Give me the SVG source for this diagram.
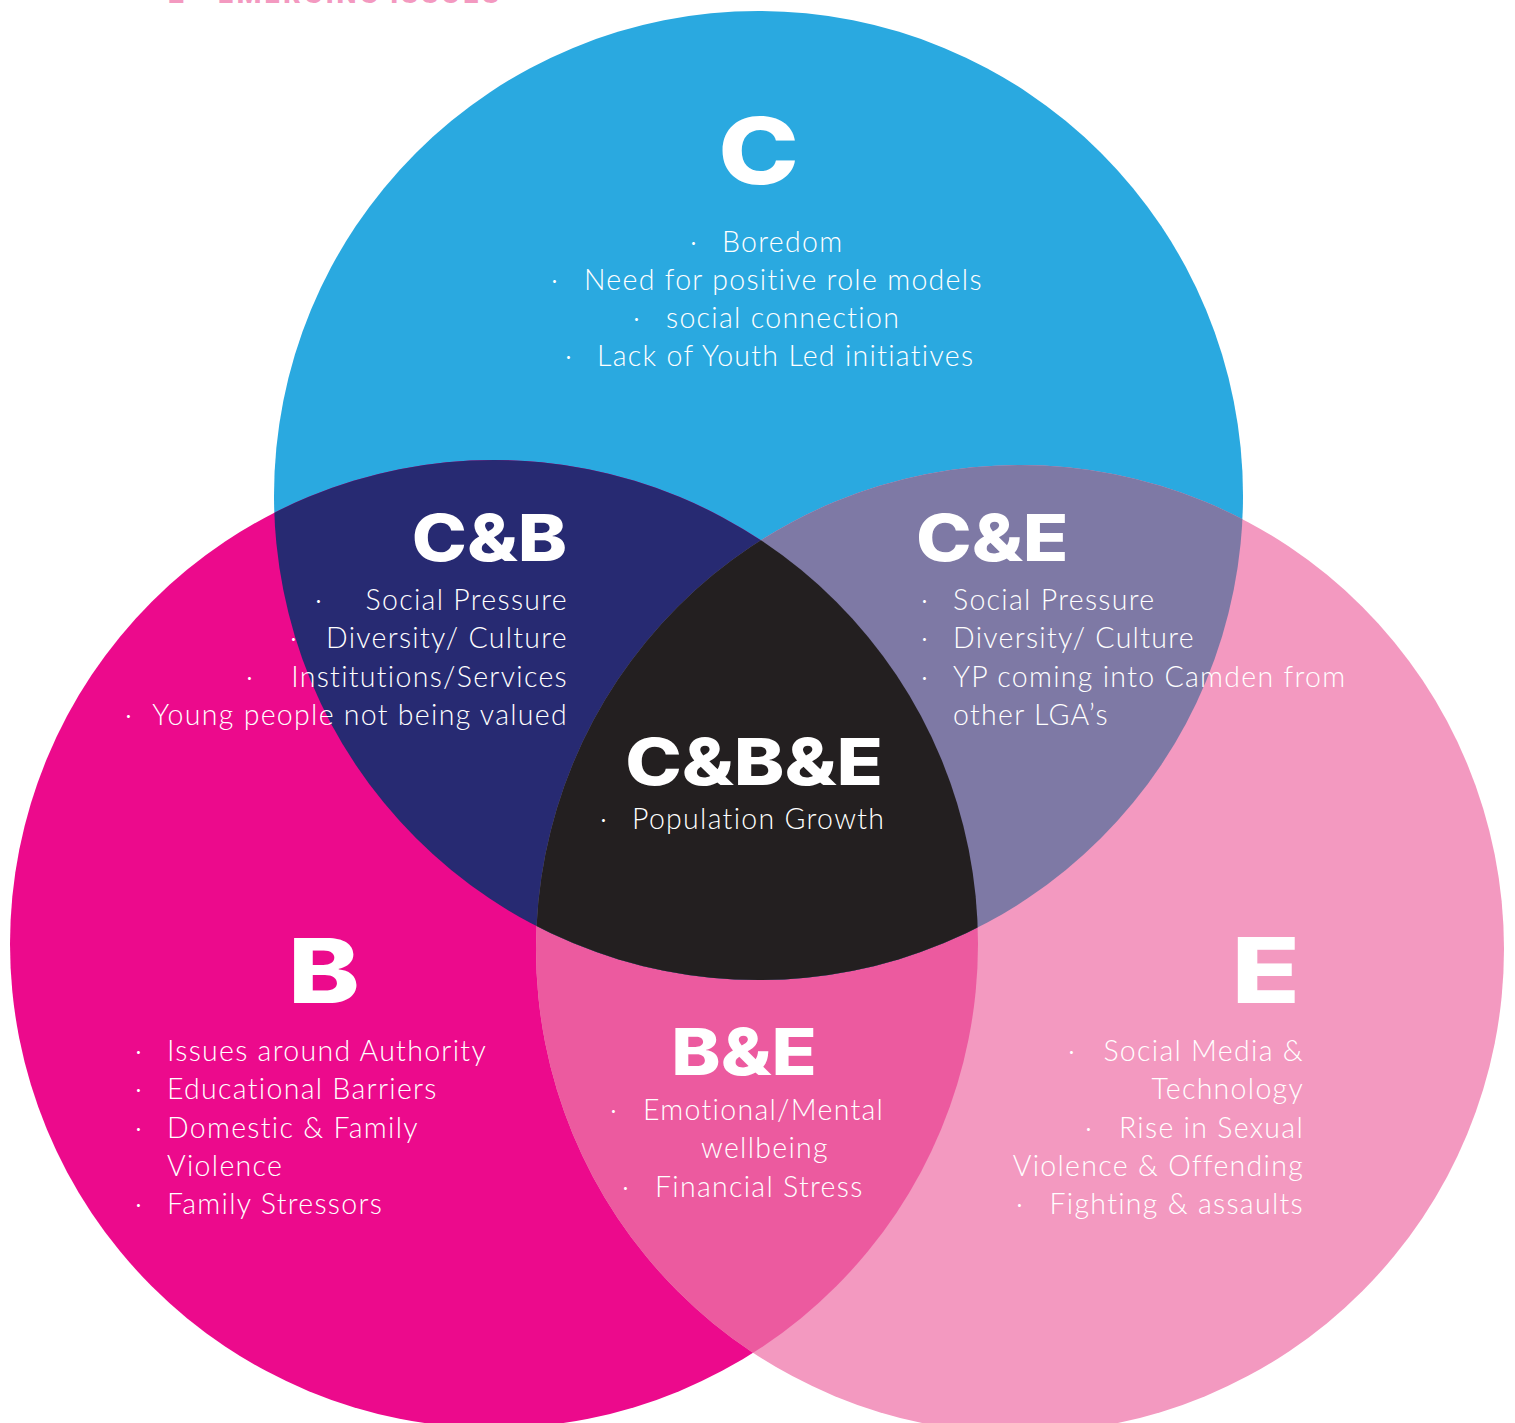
<svg xmlns="http://www.w3.org/2000/svg" width="1515" height="1423" viewBox="0 0 1515 1423">
<style>
.t{font-family:Lato,"Open Sans","Liberation Sans",sans-serif;font-weight:300;font-size:28.5px;letter-spacing:1.3px;fill:#ffffff}
.h{font-family:Inter,"Liberation Sans",sans-serif;font-weight:800;fill:#ffffff}
.top{font-family:Inter,"Liberation Sans",sans-serif;font-weight:800;font-size:26px;letter-spacing:3px;fill:#f399c0}
</style>
<defs>
<clipPath id="cC"><circle cx="758.5" cy="495.5" r="484.5"/></clipPath>
<clipPath id="cB"><circle cx="494" cy="944" r="484"/></clipPath>
<clipPath id="cE"><circle cx="1020" cy="949" r="484"/></clipPath>
</defs>
<rect width="1515" height="1423" fill="#ffffff"/>
<text class="top" x="168" y="3">2<tspan x="218">EMERGING ISSUES</tspan></text>

<g id="C">
<circle cx="758.5" cy="495.5" r="484.5" fill="#2aa9e0"/>
</g>
<g id="B">
<circle cx="494" cy="944" r="484" fill="#ec0a8c"/>
</g>
<g id="E">
<circle cx="1020" cy="949" r="484" fill="#f399c0"/>
</g>
<g id="BE">
<circle cx="1020" cy="949" r="484" fill="#ec5a9f" clip-path="url(#cB)"/>
</g>
<g id="CB">
<circle cx="494" cy="944" r="484" fill="#272a72" clip-path="url(#cC)"/>
</g>
<g id="CE">
<circle cx="1020" cy="949" r="484" fill="#7e79a5" clip-path="url(#cC)"/>
</g>
<g id="CBE">
<g clip-path="url(#cC)"><circle cx="1020" cy="949" r="484" fill="#231f20" clip-path="url(#cB)"/></g>
</g>

<g id="C-text">
<text class="h" transform="translate(758.5,184) scale(1.18,1)" font-size="92" text-anchor="middle">C</text>
<text class="t" x="690" y="252">·<tspan x="722">Boredom</tspan></text>
<text class="t" x="551" y="290">·<tspan x="584">Need for positive role models</tspan></text>
<text class="t" x="633" y="328">·<tspan x="666">social connection</tspan></text>
<text class="t" x="565" y="366">·<tspan x="597">Lack of Youth Led initiatives</tspan></text>
</g>
<g id="CB-text">
<text class="h" transform="translate(567,561) scale(1.16,1)" font-size="64" text-anchor="end">C&amp;B</text>
<text class="t" x="315" y="610">·</text><text class="t" x="568" y="610" text-anchor="end">Social Pressure</text>
<text class="t" x="290" y="648">·</text><text class="t" x="568" y="648" text-anchor="end">Diversity/ Culture</text>
<text class="t" x="246" y="687">·</text><text class="t" x="568" y="687" text-anchor="end">Institutions/Services</text>
<text class="t" x="125" y="725">·</text><text class="t" x="568" y="725" text-anchor="end">Young people not being valued</text>
</g>
<g id="CE-text">
<text class="h" transform="translate(916,561) scale(1.17,1)" font-size="64">C&amp;E</text>
<text class="t" x="921" y="610">·<tspan x="953">Social Pressure</tspan></text>
<text class="t" x="921" y="648">·<tspan x="953">Diversity/ Culture</tspan></text>
<text class="t" x="921" y="687">·<tspan x="953">YP coming into Camden from</tspan></text>
<text class="t" x="953" y="725">other LGA’s</text>
</g>
<g id="CBE-text">
<text class="h" transform="translate(754,785) scale(1.19,1)" font-size="64" text-anchor="middle">C&amp;B&amp;E</text>
<text class="t" x="600" y="829">·<tspan x="632">Population Growth</tspan></text>
</g>
<g id="B-text">
<text class="h" transform="translate(324,1003) scale(1.2,1)" font-size="90" text-anchor="middle">B</text>
<text class="t" x="135" y="1061">·<tspan x="167">Issues around Authority</tspan></text>
<text class="t" x="135" y="1099">·<tspan x="167">Educational Barriers</tspan></text>
<text class="t" x="135" y="1138">·<tspan x="167">Domestic &amp; Family</tspan></text>
<text class="t" x="167" y="1176">Violence</text>
<text class="t" x="135" y="1214">·<tspan x="167">Family Stressors</tspan></text>
</g>
<g id="BE-text">
<text class="h" transform="translate(744,1075) scale(1.16,1)" font-size="64" text-anchor="middle">B&amp;E</text>
<text class="t" x="610" y="1120">·<tspan x="643">Emotional/Mental</tspan></text>
<text class="t" x="765" y="1158" text-anchor="middle">wellbeing</text>
<text class="t" x="622" y="1197">·<tspan x="655">Financial Stress</tspan></text>
</g>
<g id="E-text">
<text class="h" transform="translate(1300,1003) scale(1.25,1)" font-size="90" text-anchor="end">E</text>
<text class="t" x="1068" y="1061">·</text><text class="t" x="1304" y="1061" text-anchor="end">Social Media &amp;</text>
<text class="t" x="1304" y="1099" text-anchor="end">Technology</text>
<text class="t" x="1085" y="1138">·</text><text class="t" x="1304" y="1138" text-anchor="end">Rise in Sexual</text>
<text class="t" x="1304" y="1176" text-anchor="end">Violence &amp; Offending</text>
<text class="t" x="1016" y="1214">·</text><text class="t" x="1304" y="1214" text-anchor="end">Fighting &amp; assaults</text>
</g>
</svg>
